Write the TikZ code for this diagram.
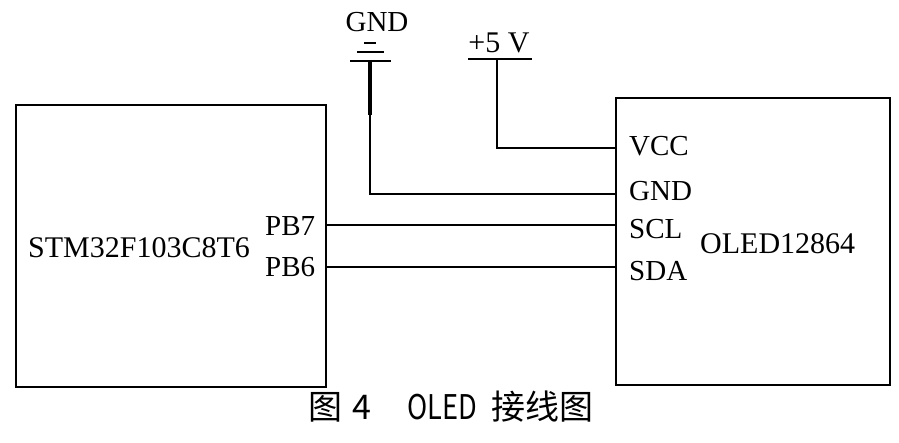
\documentclass[tikz,border=0pt]{standalone}
\usepackage{graphicx}
\usepackage{fontspec}
\setmainfont{Liberation Serif}
\newfontfamily\cjk{Noto Sans CJK SC}
\begin{document}
\begin{tikzpicture}[x=1pt,y=-1pt,
  box/.style={draw, line width=2pt, inner sep=0pt, anchor=north west},
  wire/.style={line width=1.8pt},
  lbl/.style={inner sep=0pt, anchor=base west, font=\fontsize{30}{30}\selectfont},
  pin/.style={inner sep=0pt, anchor=base west, font=\fontsize{29}{29}\selectfont}]
\useasboundingbox (0,0) rectangle (899,442);
% blocks
\node[box, minimum width=310pt, minimum height=282pt] (mcu) at (15,104) {};
\node[box, minimum width=274pt, minimum height=287pt] (oled) at (615,97) {};
\node[lbl] (mcuname) at (28,257) {STM32F103C8T6};
\node[lbl] (oledname) at (700,253) {OLED12864};
% pins
\node[pin] (pb7) at (265,235) {PB7};
\node[pin] (pb6) at (265,276) {PB6};
\node[pin] (vcc) at (629,155) {VCC};
\node[pin] (gnd) at (629,200) {GND};
\node[pin] (scl) at (629,238) {SCL};
\node[pin] (sda) at (629,280) {SDA};
% pin points
\coordinate (pPB7) at (325,225);
\coordinate (pPB6) at (325,267);
\coordinate (pVCC) at (615,148);
\coordinate (pGND) at (615,194);
\coordinate (pSCL) at (615,225);
\coordinate (pSDA) at (615,267);
% supply symbols
\node[pin, anchor=base] (gndlbl) at (377,31) {GND};
\node[lbl, anchor=base] (vlbl) at (499,52) {+5 V};
\coordinate (gndtop) at (370,61);
\coordinate (gndthick) at (370,115);
\coordinate (gndcorner) at (370,194);
\coordinate (vtop) at (497,59);
\coordinate (vcorner) at (497,148);
\draw[wire] (350,61) -- (391,61);
\draw[wire] (357,52) -- (384,52);
\draw[wire] (364,43) -- (376,43);
\draw[wire] (468,59) -- (532,59);
% connections
\draw[line width=3.5pt] (gndtop) -- (gndthick);
\draw[wire] (gndthick) -- (gndcorner) -- (pGND);
\draw[wire] (vtop) -- (vcorner) -- (pVCC);
\draw[wire] (pPB7) -- (pSCL);
\draw[wire] (pPB6) -- (pSDA);
% caption
\node[inner sep=0pt, font=\fontsize{34}{34}\cjk] (caption) at (451,407)
  {图\hspace{10pt}4\hspace{36pt}\scalebox{0.8}[1]{OLED}\hspace{14pt}接线图};
\end{tikzpicture}
\end{document}
